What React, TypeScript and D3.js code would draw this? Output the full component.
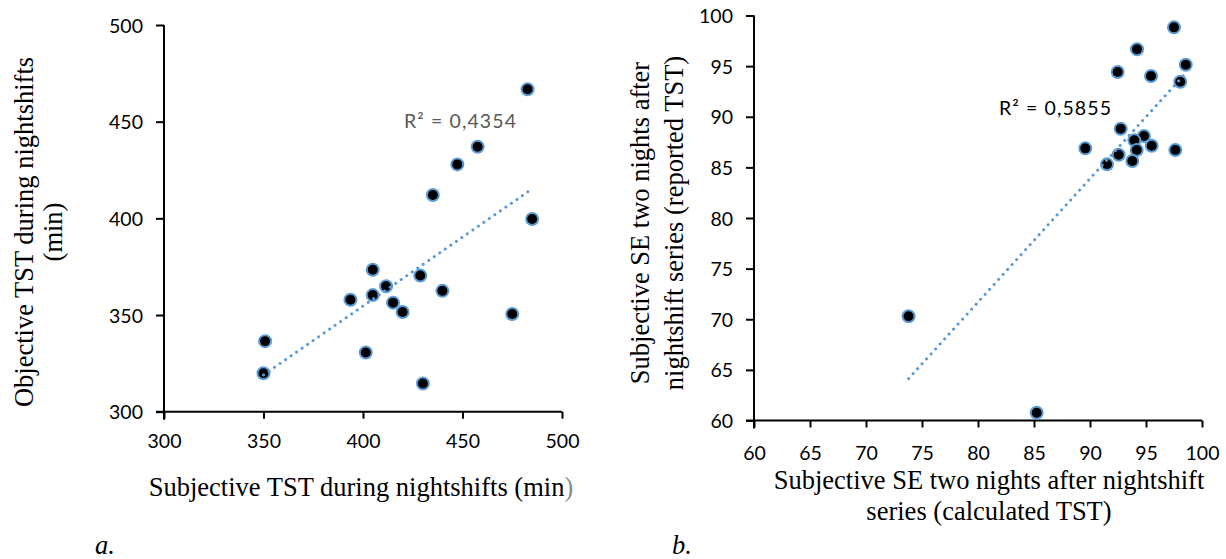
import React, { useEffect, useRef } from 'react';
import * as d3 from 'd3';

// panel a: subjective vs objective TST during nightshifts (min)
const subjTST = [482.7, 457.6, 447.4, 435.1, 485, 404.9, 428.8, 411.6, 404.9, 439.9, 393.7, 415.1, 419.9, 475, 350.8, 401.4, 350, 430.1];
const objTST = [466.8, 437, 427.9, 412.1, 399.7, 373.4, 370.4, 364.9, 360.3, 362.5, 357.9, 356.4, 351.6, 350.5, 336.5, 330.6, 319.9, 314.6];

// panel b: subjective SE, calculated vs reported TST
const seCalc = [97.5, 94.2, 98.55, 92.47, 95.45, 98.06, 92.74, 94.82, 93.96, 89.58, 95.51, 97.62, 94.17, 92.56, 93.78, 91.52, 73.8, 85.24];
const seRep = [98.83, 96.66, 95.14, 94.42, 94.02, 93.46, 88.82, 88.1, 87.67, 86.88, 87.14, 86.72, 86.72, 86.25, 85.63, 85.3, 70.3, 60.77];

const ticksA = [300, 350, 400, 450, 500];
const ticksBx = [60, 65, 70, 75, 80, 85, 90, 95, 100];
const ticksBy = [60, 65, 70, 75, 80, 85, 90, 95, 100];

const labelA = 'R² = 0,4354';
const labelB = 'R² = 0,5855';

const tickFont = 'Lato, "Open Sans", sans-serif';
const serif = '"Liberation Serif", "DejaVu Serif", serif';

function fit(xs: number[], ys: number[]) {
	const mx = d3.mean(xs) as number;
	const my = d3.mean(ys) as number;
	let sxy = 0;
	let sxx = 0;
	xs.forEach((x, i) => {
		sxy += (x - mx) * (ys[i] - my);
		sxx += (x - mx) * (x - mx);
	});
	const b = sxy / sxx;
	const a = my - b * mx;
	const x0 = d3.min(xs) as number;
	const x1 = d3.max(xs) as number;
	return [
		[x0, a + b * x0],
		[x1, a + b * x1],
	];
}

function drawPanel(svg: any, opt: any) {
	const { xs, ys, xDomain, yDomain, xRange, yRange, xTicks, yTicks, xLabelDy, label, labelPos, labelColor } = opt;
	const x = d3.scaleLinear().domain(xDomain).range(xRange);
	const y = d3.scaleLinear().domain(yDomain).range(yRange);
	const g = svg.append('g');

	const xAxis = g
		.append('g')
		.attr('transform', `translate(0,${yRange[0]})`)
		.call(d3.axisBottom(x).tickValues(xTicks).tickSize(7).tickSizeOuter(0).tickFormat(d3.format('d')));
	const yAxis = g
		.append('g')
		.attr('transform', `translate(${xRange[0]},0)`)
		.call(d3.axisLeft(y).tickValues(yTicks).tickSize(7).tickSizeOuter(0).tickFormat(d3.format('d')));

	[xAxis, yAxis].forEach(ax => {
		ax.select('.domain').attr('stroke', '#000').attr('stroke-width', 2);
		ax.selectAll('.tick line').attr('stroke', '#000').attr('stroke-width', 2);
		ax.selectAll('.tick text').attr('fill', '#000').style('font-family', tickFont).style('font-size', '19.5px');
	});
	// extend domains a bit past the origin like Excel does
	xAxis.select('.domain').attr('d', `M${xRange[0] - 8},0H${xRange[1]}`);
	yAxis.select('.domain').attr('d', `M0,${yRange[0] + 8}V${yRange[1]}`);
	yAxis.selectAll('.tick line').attr('x2', -8);
	yAxis.selectAll('.tick text').attr('x', -21).attr('dy', '0.36em');
	xAxis.selectAll('.tick text').attr('y', xLabelDy).attr('dy', '0.36em');

	const pts = xs.map((v: number, i: number) => ({ x: v, y: ys[i] }));
	g.selectAll('circle.pt')
		.data(pts)
		.enter()
		.append('circle')
		.attr('class', 'pt')
		.attr('cx', (d: any) => x(d.x))
		.attr('cy', (d: any) => y(d.y))
		.attr('r', 6)
		.attr('fill', '#000')
		.attr('stroke', '#5b9bd5')
		.attr('stroke-width', 2);

	const line = d3
		.line()
		.x((d: any) => x(d[0]))
		.y((d: any) => y(d[1]));
	g.append('path')
		.attr('d', line(fit(xs, ys) as any))
		.attr('fill', 'none')
		.attr('stroke', '#5b9bd5')
		.attr('stroke-width', 3)
		.attr('stroke-linecap', 'round')
		.attr('stroke-dasharray', '0.1 6.6');

	g.append('text')
		.attr('x', labelPos[0])
		.attr('y', labelPos[1])
		.attr('fill', labelColor)
		.style('font-family', tickFont)
		.style('font-size', '19.5px')
		.style('letter-spacing', '1.1px')
		.text(label);
}

export default function App() {
	const ref = useRef<SVGSVGElement>(null);

	useEffect(() => {
		const svg = d3.select(ref.current);
		svg.selectAll('*').remove();

		drawPanel(svg, {
			xs: subjTST,
			ys: objTST,
			xDomain: [300, 500],
			yDomain: [300, 500],
			xRange: [164, 562],
			yRange: [411.7, 25],
			xTicks: ticksA,
			yTicks: ticksA,
			xLabelDy: 29,
			label: labelA,
			labelPos: [404, 128],
			labelColor: '#595959',
		});
		drawPanel(svg, {
			xs: seCalc,
			ys: seRep,
			xDomain: [60, 100],
			yDomain: [60, 100],
			xRange: [754, 1202],
			yRange: [420.5, 15.5],
			xTicks: ticksBx,
			yTicks: ticksBy,
			xLabelDy: 32,
			label: labelB,
			labelPos: [999, 115],
			labelColor: '#000',
		});

		const t = svg.append('g').style('font-family', serif).style('font-size', '26.5px').attr('fill', '#000');

		// panel a titles
		const xa = t.append('text').attr('x', 361).attr('y', 496).attr('text-anchor', 'middle');
		xa.append('tspan').text('Subjective TST during nightshifts (min');
		xa.append('tspan').attr('fill', '#8c8c8c').text(')');
		t.append('text')
			.attr('transform', 'translate(33,232) rotate(-90)')
			.attr('text-anchor', 'middle')
			.text('Objective TST during nightshifts');
		t.append('text')
			.attr('transform', 'translate(62,232) rotate(-90)')
			.attr('text-anchor', 'middle')
			.text('(min)');

		// panel b titles
		t.append('text').attr('x', 989).attr('y', 489).attr('text-anchor', 'middle').text('Subjective SE two nights after nightshift');
		t.append('text').attr('x', 989).attr('y', 520).attr('text-anchor', 'middle').text('series (calculated TST)');
		t.append('text')
			.attr('transform', 'translate(649,223) rotate(-90)')
			.attr('text-anchor', 'middle')
			.text('Subjective SE two nights after');
		t.append('text')
			.attr('transform', 'translate(683,223) rotate(-90)')
			.attr('text-anchor', 'middle')
			.text('nightshift series (reported TST)');

		t.append('text').attr('x', 95).attr('y', 554).style('font-style', 'italic').text('a.');
		t.append('text').attr('x', 672).attr('y', 554).style('font-style', 'italic').text('b.');
	}, []);

	return (
		<svg
			ref={ref}
			width={1226}
			height={559}
			style={{ position: 'absolute', left: 0, top: 0, background: '#fff' }}
		/>
	);
}
